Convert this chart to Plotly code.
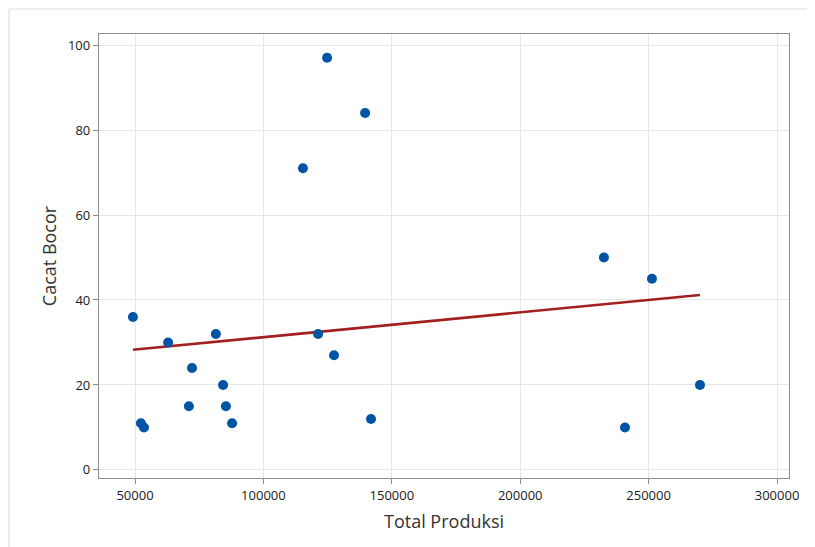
import numpy as np
import plotly.graph_objects as go

total_produksi = [49200, 52300, 53500, 62900, 72200, 71000, 81500, 84300, 85400, 87800,
                  115400, 121300, 124800, 127500, 139600, 141900, 232600, 240800, 251300, 270000]
cacat_bocor = [36, 11, 10, 30, 24, 15, 32, 20, 15, 11,
               71, 32, 97, 27, 84, 12, 50, 10, 45, 20]

x = np.array(total_produksi, dtype=float)
y = np.array(cacat_bocor, dtype=float)
slope, intercept = np.polyfit(x, y, 1)
xl = np.array([x.min(), x.max()])
yl = slope * xl + intercept

# page body has an 8px margin; figure placed at (8, 8)
W, H = 807, 539
L, R, T, B = 91, 26, 26, 69
pw, ph = W - L - R, H - T - B

fig = go.Figure()
fig.add_trace(go.Scatter(x=xl, y=yl, mode="lines",
                         line=dict(color="#A32020", width=2.6), hoverinfo="skip"))
fig.add_trace(go.Scatter(x=total_produksi, y=cacat_bocor, mode="markers",
                         marker=dict(color="#0054A6", size=10)))

axis_common = dict(showgrid=True, gridcolor="#E6E6E6", gridwidth=1,
                   showline=True, linecolor="#8C8C8C", linewidth=1.3, mirror=True,
                   ticks="outside", ticklen=5, tickcolor="#8C8C8C",
                   zeroline=False, tickfont=dict(size=13, color="#1A1A1A"))
fig.update_xaxes(range=[35980, 304670], tickvals=[50000, 100000, 150000, 200000, 250000, 300000],
                 ticktext=["50000", "100000", "150000", "200000", "250000", "300000"],
                 title=dict(text="Total Produksi", font=dict(size=18, color="#333"), standoff=12),
                 **axis_common)
fig.update_yaxes(range=[-1.9, 102.6], tickvals=[0, 20, 40, 60, 80, 100],
                 title=dict(text="Cacat Bocor", font=dict(size=18, color="#333"), standoff=6),
                 **axis_common)

fig.add_shape(type="rect", xref="paper", yref="paper",
              x0=(1 - L) / pw, x1=(W + 2 - L) / pw,
              y0=(H - B - (H + 2)) / ph, y1=(H - B - 1) / ph,
              line=dict(color="#DADADA", width=1), layer="below")

fig.update_layout(width=W, height=H, margin=dict(l=L, r=R, t=T, b=B),
                  plot_bgcolor="white", paper_bgcolor="white", showlegend=False,
                  font=dict(family="Open Sans, Noto Sans, sans-serif", color="#1A1A1A"))

fig.write_html("out.html")
